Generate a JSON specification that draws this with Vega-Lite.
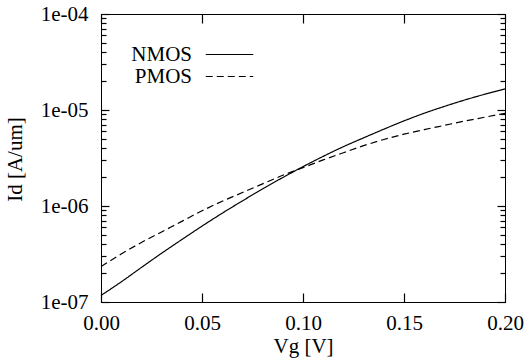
{
  "$schema": "https://vega.github.io/schema/vega-lite/v6.json",
  "autosize": {"type": "none"},
  "padding": {"left": 101, "top": 14, "right": 20, "bottom": 60},
  "width": 404,
  "height": 288,
  "background": "white",
  "config": {
    "view": {"stroke": "black", "strokeWidth": 1},
    "axis": {
      "grid": false,
      "domainColor": "black",
      "domainWidth": 1,
      "tickColor": "black",
      "tickWidth": 1.2,
      "labelFont": "Liberation Serif",
      "labelFontSize": 21,
      "labelColor": "black",
      "titleFont": "Liberation Serif",
      "titleFontSize": 21,
      "titleFontWeight": "normal",
      "titleColor": "black"
    },
    "legend": {
      "labelFont": "Liberation Serif",
      "labelFontSize": 21,
      "labelColor": "black"
    }
  },
  "data": {
    "values": [
      {"Vg": 0.00, "Id": 1.17e-7, "device": "NMOS"},
      {"Vg": 0.01, "Id": 1.62e-7, "device": "NMOS"},
      {"Vg": 0.02, "Id": 2.29e-7, "device": "NMOS"},
      {"Vg": 0.03, "Id": 3.22e-7, "device": "NMOS"},
      {"Vg": 0.04, "Id": 4.47e-7, "device": "NMOS"},
      {"Vg": 0.05, "Id": 6.17e-7, "device": "NMOS"},
      {"Vg": 0.06, "Id": 8.41e-7, "device": "NMOS"},
      {"Vg": 0.07, "Id": 1.13e-6, "device": "NMOS"},
      {"Vg": 0.08, "Id": 1.51e-6, "device": "NMOS"},
      {"Vg": 0.09, "Id": 1.98e-6, "device": "NMOS"},
      {"Vg": 0.10, "Id": 2.57e-6, "device": "NMOS"},
      {"Vg": 0.11, "Id": 3.29e-6, "device": "NMOS"},
      {"Vg": 0.12, "Id": 4.15e-6, "device": "NMOS"},
      {"Vg": 0.13, "Id": 5.13e-6, "device": "NMOS"},
      {"Vg": 0.14, "Id": 6.31e-6, "device": "NMOS"},
      {"Vg": 0.15, "Id": 7.70e-6, "device": "NMOS"},
      {"Vg": 0.16, "Id": 9.25e-6, "device": "NMOS"},
      {"Vg": 0.17, "Id": 1.09e-5, "device": "NMOS"},
      {"Vg": 0.18, "Id": 1.27e-5, "device": "NMOS"},
      {"Vg": 0.19, "Id": 1.46e-5, "device": "NMOS"},
      {"Vg": 0.20, "Id": 1.66e-5, "device": "NMOS"},
      {"Vg": 0.00, "Id": 2.34e-7, "device": "PMOS"},
      {"Vg": 0.01, "Id": 3.16e-7, "device": "PMOS"},
      {"Vg": 0.02, "Id": 4.17e-7, "device": "PMOS"},
      {"Vg": 0.03, "Id": 5.37e-7, "device": "PMOS"},
      {"Vg": 0.04, "Id": 6.92e-7, "device": "PMOS"},
      {"Vg": 0.05, "Id": 8.91e-7, "device": "PMOS"},
      {"Vg": 0.06, "Id": 1.12e-6, "device": "PMOS"},
      {"Vg": 0.07, "Id": 1.38e-6, "device": "PMOS"},
      {"Vg": 0.08, "Id": 1.70e-6, "device": "PMOS"},
      {"Vg": 0.09, "Id": 2.09e-6, "device": "PMOS"},
      {"Vg": 0.10, "Id": 2.51e-6, "device": "PMOS"},
      {"Vg": 0.11, "Id": 3.02e-6, "device": "PMOS"},
      {"Vg": 0.12, "Id": 3.59e-6, "device": "PMOS"},
      {"Vg": 0.13, "Id": 4.25e-6, "device": "PMOS"},
      {"Vg": 0.14, "Id": 4.93e-6, "device": "PMOS"},
      {"Vg": 0.15, "Id": 5.60e-6, "device": "PMOS"},
      {"Vg": 0.16, "Id": 6.24e-6, "device": "PMOS"},
      {"Vg": 0.17, "Id": 6.92e-6, "device": "PMOS"},
      {"Vg": 0.18, "Id": 7.67e-6, "device": "PMOS"},
      {"Vg": 0.19, "Id": 8.41e-6, "device": "PMOS"},
      {"Vg": 0.20, "Id": 9.23e-6, "device": "PMOS"}
    ]
  },
  "layer": [
    {
      "mark": {"type": "line", "color": "black", "strokeWidth": 1.2, "interpolate": "monotone"},
      "encoding": {
        "x": {
          "field": "Vg", "type": "quantitative",
          "scale": {"domain": [0, 0.2], "nice": false, "zero": false},
          "axis": {
            "orient": "bottom",
            "values": [0, 0.05, 0.1, 0.15, 0.2],
            "format": ".2f",
            "tickSize": -9,
            "labelPadding": 19,
            "labelFlush": false,
            "title": "Vg [V]",
            "titleX": 202,
            "titleY": 44,
            "titleBaseline": "middle",
            "titleAlign": "center"
          }
        },
        "y": {
          "field": "Id", "type": "quantitative",
          "scale": {"type": "log", "domain": [1e-7, 1e-4], "nice": false},
          "axis": {
            "orient": "left",
            "values": [1e-7, 2e-7, 3e-7, 4e-7, 5e-7, 6e-7, 7e-7, 8e-7, 9e-7, 1e-6, 2e-6, 3e-6, 4e-6, 5e-6, 6e-6, 7e-6, 8e-6, 9e-6, 1e-5, 2e-5, 3e-5, 4e-5, 5e-5, 6e-5, 7e-5, 8e-5, 9e-5, 1e-4],
            "labelExpr": "abs(log(datum.value)/LN10 - round(log(datum.value)/LN10)) < 0.001 ? '1e-0' + (-round(log(datum.value)/LN10)) : ''",
            "tickSize": {"condition": {"test": "abs(log(datum.value)/LN10 - round(log(datum.value)/LN10)) < 0.001", "value": -8}, "value": -5},
            "labelPadding": 21,
            "labelFlush": false,
            "labelOverlap": false,
            "title": "Id [A/um]",
            "titleX": -86,
            "titleY": 145,
            "titleAngle": -90,
            "titleBaseline": "middle",
            "titleAlign": "center"
          }
        },
        "strokeDash": {
          "field": "device", "type": "nominal",
          "scale": {"domain": ["NMOS", "PMOS"], "range": [[1, 0], [7, 4]]},
          "legend": {
            "title": null,
            "orient": "none",
            "legendX": 118,
            "legendY": 30,
            "padding": 0,
            "symbolType": "M-2.5,0H2.5",
            "symbolSize": 361,
            "symbolStrokeWidth": 1.2,
            "symbolStrokeColor": "black",
            "labelAlign": "right",
            "labelOffset": -48,
            "rowPadding": 0
          }
        }
      }
    },
    {
      "mark": {"type": "line", "color": "black", "strokeOpacity": 0},
      "encoding": {
        "x": {
          "field": "Vg", "type": "quantitative",
          "axis": {
            "orient": "top",
            "values": [0, 0.05, 0.1, 0.15, 0.2],
            "labels": false,
            "tickSize": -9,
            "title": null
          }
        },
        "y": {
          "field": "Id", "type": "quantitative",
          "axis": {
            "orient": "right",
            "values": [1e-7, 2e-7, 3e-7, 4e-7, 5e-7, 6e-7, 7e-7, 8e-7, 9e-7, 1e-6, 2e-6, 3e-6, 4e-6, 5e-6, 6e-6, 7e-6, 8e-6, 9e-6, 1e-5, 2e-5, 3e-5, 4e-5, 5e-5, 6e-5, 7e-5, 8e-5, 9e-5, 1e-4],
            "labels": false,
            "tickSize": {"condition": {"test": "abs(log(datum.value)/LN10 - round(log(datum.value)/LN10)) < 0.001", "value": -8}, "value": -5},
            "title": null
          }
        },
        "detail": {"field": "device", "type": "nominal"}
      }
    }
  ],
  "resolve": {"axis": {"x": "independent", "y": "independent"}}
}
